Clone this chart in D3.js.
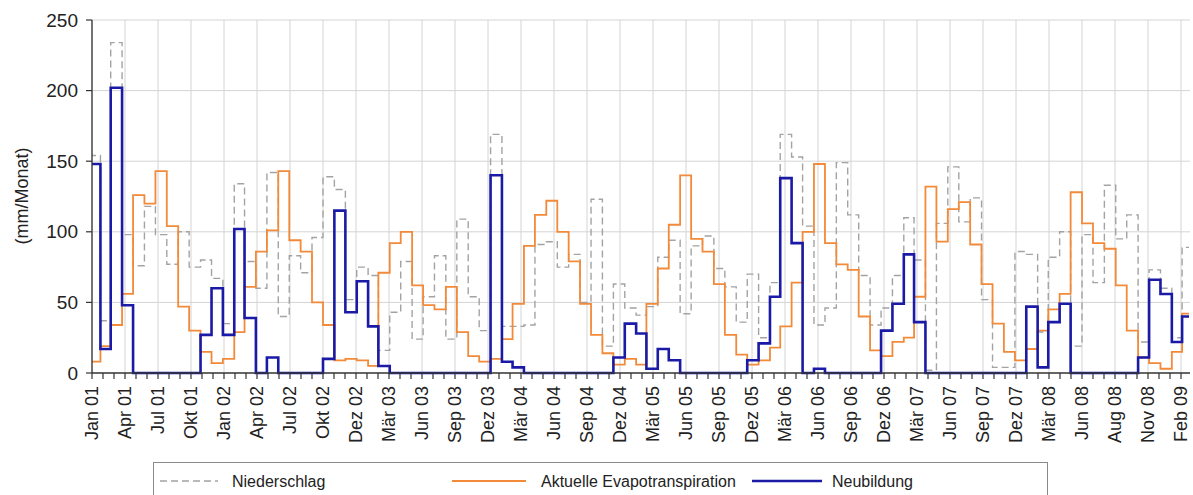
<!DOCTYPE html>
<html><head><meta charset="utf-8">
<script src="https://cdn.jsdelivr.net/npm/d3@7"></script>
<style>body{margin:0;background:#fff;} svg{display:block;font-family:"Liberation Sans",Arial,sans-serif;}</style>
</head><body><svg id="chart" width="1193" height="495"></svg>
<script>
// Monthly values Jan 2001 .. Mar 2009 (mm/Monat)
const niederschlag = [154,37,234,98,76,118,98,77,100,75,80,67,35,134,79,60,142,40,83,71,96,139,130,52,75,69,16,43,79,24,54,83,24,109,54,30,169,33,33,34,91,93,75,84,50,123,19,63,46,41,47,82,94,42,90,97,74,61,36,70,25,64,169,153,104,34,46,149,112,69,34,46,69,110,80,2,106,146,107,124,52,4,4,86,84,29,82,100,19,98,64,133,95,112,22,73,60,25,89];
const evapotranspiration = [8,19,34,56,126,120,143,104,47,30,15,7,10,29,61,86,101,143,94,86,50,34,9,10,9,5,71,92,100,62,48,45,61,29,12,8,10,24,49,90,112,122,100,79,49,27,14,6,10,6,49,74,105,140,95,86,63,27,13,6,9,18,33,64,100,148,92,77,73,40,16,12,22,25,54,132,93,116,121,91,63,35,15,9,17,30,45,56,128,106,92,88,62,30,11,7,3,15,42];
const neubildung = [148,17,202,48,0,0,0,0,0,0,27,60,27,102,39,0,11,0,0,0,0,10,115,43,65,33,5,0,0,0,0,0,0,0,0,0,140,8,4,0,0,0,0,0,0,0,0,11,35,28,3,17,9,0,0,0,0,0,0,9,21,54,138,92,0,3,0,0,0,0,0,30,49,84,36,0,0,0,0,0,0,0,0,0,47,4,36,49,0,0,0,0,0,0,11,66,56,22,40];
const xTickLabels = ["Jan 01","Apr 01","Jul 01","Okt 01","Jan 02","Apr 02","Jul 02","Okt 02","Dez 02","Mär 03","Jun 03","Sep 03","Dez 03","Mär 04","Jun 04","Sep 04","Dez 04","Mär 05","Jun 05","Sep 05","Dez 05","Mär 06","Jun 06","Sep 06","Dez 06","Mär 07","Jun 07","Sep 07","Dez 07","Mär 08","Jun 08","Aug 08","Nov 08","Feb 09"];
const yTicks = [0,50,100,150,200,250];
const seriesNames = ["Niederschlag","Aktuelle Evapotranspiration","Neubildung"];
const seriesColors = ["#a3a3a3","#f28a3a","#1a1aa6"];

const months = d3.utcMonths(new Date(Date.UTC(2001,0,1)), new Date(Date.UTC(2009,3,1)));
const axisStart = new Date(Date.UTC(2001,0,9));
const tickDates = xTickLabels.map((_, k) => d3.utcDay.offset(axisStart, 90*k));
const minorDates = d3.range(0, (xTickLabels.length-1)*3+1).map(k => d3.utcDay.offset(axisStart, 30*k));

const L = 92, R = 1190, T = 20, B = 373;
const x = d3.scaleUtc().domain([axisStart, tickDates[tickDates.length-1]]).range([L, 1181]);
const y = d3.scaleLinear().domain([0,250]).range([B, T]);

const svg = d3.select("#chart");
svg.append("defs").append("clipPath").attr("id","clip")
  .append("rect").attr("x", L).attr("y", 0).attr("width", 1189-L).attr("height", B+2);

// grid
svg.append("g").selectAll("line").data(tickDates).join("line")
  .attr("x1", d=>x(d)).attr("x2", d=>x(d)).attr("y1", T).attr("y2", B)
  .attr("stroke","#d4d4d4").attr("stroke-width",1);
svg.append("g").selectAll("line").data(yTicks.filter(d=>d>0)).join("line")
  .attr("x1", L).attr("x2", R).attr("y1", d=>y(d)).attr("y2", d=>y(d))
  .attr("stroke","#d4d4d4").attr("stroke-width",1);

// series
const series = [niederschlag, evapotranspiration, neubildung];
const line = d3.line().x(d=>x(d[0])).y(d=>y(d[1])).curve(d3.curveStepAfter);
const gS = svg.append("g").attr("clip-path","url(#clip)");
series.forEach((vals, s) => {
  const pts = months.map((m,i)=>[m, vals[i]]);
  pts.push([d3.utcMonth.offset(months[months.length-1],1), vals[vals.length-1]]);
  gS.append("path").attr("d", line(pts)).attr("fill","none")
    .attr("stroke", seriesColors[s])
    .attr("stroke-width", s===2 ? 2.6 : (s===1 ? 1.8 : 1.4))
    .attr("stroke-dasharray", s===0 ? "7,4" : null)
    .attr("stroke-linejoin","miter");
});

// x axis
const ax = svg.append("g");
ax.append("line").attr("x1", L).attr("x2", R).attr("y1", B).attr("y2", B).attr("stroke","#333").attr("stroke-width",1.3);
ax.selectAll("line.mt").data(minorDates).join("line").attr("class","mt")
  .attr("x1", d=>x(d)).attr("x2", d=>x(d)).attr("y1", B).attr("y2", B+6)
  .attr("stroke","#333").attr("stroke-width",1.2);
ax.selectAll("text").data(tickDates).join("text")
  .attr("transform", d=>`translate(${x(d)},386) rotate(-90)`)
  .attr("text-anchor","end").attr("dy","0.35em")
  .attr("font-size",18).attr("fill","#222")
  .text((d,i)=>xTickLabels[i]);

// y axis
const ay = svg.append("g");
ay.append("line").attr("x1", L).attr("x2", L).attr("y1", T).attr("y2", B).attr("stroke","#333").attr("stroke-width",1.3);
ay.selectAll("line.t").data(yTicks).join("line").attr("class","t")
  .attr("x1", L-6).attr("x2", L).attr("y1", d=>y(d)).attr("y2", d=>y(d))
  .attr("stroke","#333").attr("stroke-width",1.2);
ay.selectAll("text").data(yTicks).join("text")
  .attr("x", 78).attr("y", d=>y(d)).attr("dy","0.35em").attr("text-anchor","end")
  .attr("font-size",19).attr("fill","#222").text(d=>d);
svg.append("text").attr("transform","translate(22,196) rotate(-90)")
  .attr("text-anchor","middle").attr("dy","0.35em").attr("font-size",18).attr("fill","#222")
  .text("(mm/Monat)");

// legend
const lg = svg.append("g");
lg.append("rect").attr("x",153.5).attr("y",462.5).attr("width",894).attr("height",45)
  .attr("fill","#fff").attr("stroke","#8a8a8a").attr("stroke-width",1);
const legX = [[160,218,232],[452,526,541],[752,822,832]];
seriesNames.forEach((n,s) => {
  lg.append("line").attr("x1",legX[s][0]).attr("x2",legX[s][1]).attr("y1",481).attr("y2",481)
    .attr("stroke",seriesColors[s]).attr("stroke-width", s===2?2.4:(s===1?1.8:1.4))
    .attr("stroke-dasharray", s===0?"7,4":null);
  lg.append("text").attr("x",legX[s][2]).attr("y",481).attr("dy","0.35em")
    .attr("font-size",16).attr("fill","#222").text(n);
});
</script></body></html>
